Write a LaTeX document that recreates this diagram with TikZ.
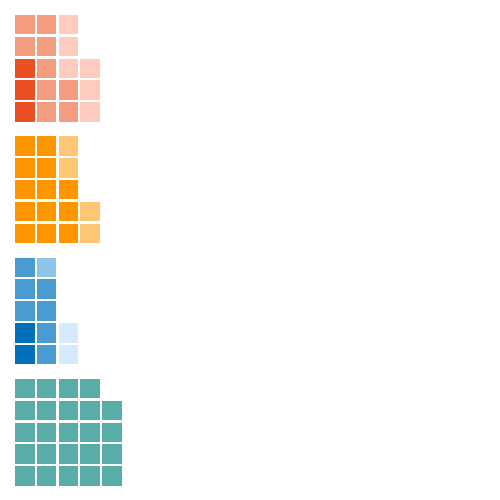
\documentclass[tikz,border=0pt]{standalone}
\usetikzlibrary{backgrounds}
\pgfdeclarelayer{nodelayer}
\pgfsetlayers{main,nodelayer}
\definecolor{redD}{HTML}{EC5022}
\definecolor{redM}{HTML}{F49C80}
\definecolor{redL}{HTML}{FDCCBE}
\definecolor{orgD}{HTML}{FF9600}
\definecolor{orgL}{HTML}{FFC675}
\definecolor{bluD}{HTML}{0070BB}
\definecolor{bluM}{HTML}{4B9BD3}
\definecolor{bluL}{HTML}{8DC4EA}
\definecolor{bluP}{HTML}{D5EBFD}
\definecolor{teal}{HTML}{58ADA8}
\tikzstyle{sq}=[rectangle,inner sep=0pt,minimum size=19.5pt]
\tikzstyle{cell}=[sq,fill=#1]

\begin{document}
\begin{tikzpicture}[x=21.8pt,y=-21.8pt]
	\useasboundingbox (-24.75pt,24.75pt) rectangle (475.25pt,-475.25pt);
	\begin{pgfonlayer}{nodelayer}
		% red
		\foreach \c/\r in {0/2,0/3,0/4}
			\node [style={cell=redD}] (a\c\r) at (\c,\r) {};
		\foreach \c/\r in {0/0,1/0,0/1,1/1,1/2,1/3,2/3,1/4,2/4}
			\node [style={cell=redM}] (a\c\r) at (\c,\r) {};
		\foreach \c/\r in {2/0,2/1,2/2,3/2,3/3,3/4}
			\node [style={cell=redL}] (a\c\r) at (\c,\r) {};
		% orange
		\begin{scope}[yshift=-121.3pt]
			\foreach \c/\r in {0/0,1/0,0/1,1/1,0/2,1/2,2/2,0/3,1/3,2/3,0/4,1/4,2/4}
				\node [style={cell=orgD}] (b\c\r) at (\c,\r) {};
			\foreach \c/\r in {2/0,2/1,3/3,3/4}
				\node [style={cell=orgL}] (b\c\r) at (\c,\r) {};
		\end{scope}
		% blue
		\begin{scope}[yshift=-242.6pt]
			\foreach \c/\r in {0/3,0/4}
				\node [style={cell=bluD}] (c\c\r) at (\c,\r) {};
			\foreach \c/\r in {0/0,0/1,1/1,0/2,1/2,1/3,1/4}
				\node [style={cell=bluM}] (c\c\r) at (\c,\r) {};
			\node [style={cell=bluL}] (c10) at (1,0) {};
			\foreach \c/\r in {2/3,2/4}
				\node [style={cell=bluP}] (c\c\r) at (\c,\r) {};
		\end{scope}
		% teal
		\begin{scope}[yshift=-363.9pt]
			\foreach \c in {0,...,3}
				\node [style={cell=teal}] (d\c0) at (\c,0) {};
			\foreach \r in {1,...,4}
				\foreach \c in {0,...,4}
					\node [style={cell=teal}] (d\c\r) at (\c,\r) {};
		\end{scope}
	\end{pgfonlayer}
\end{tikzpicture}
\end{document}
